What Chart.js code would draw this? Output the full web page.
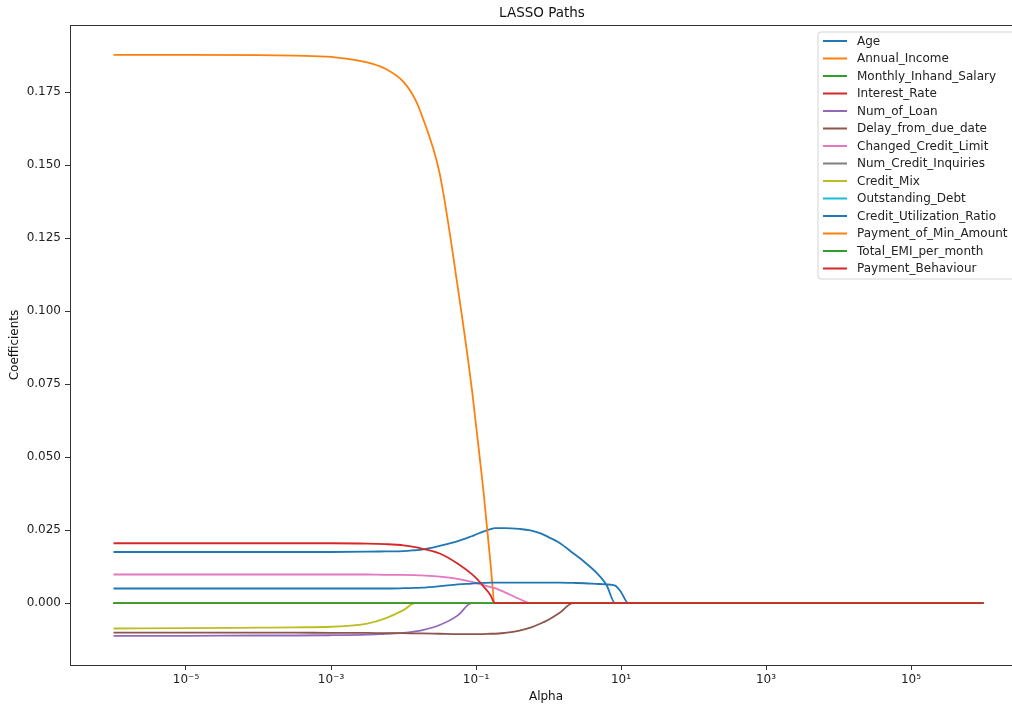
<!DOCTYPE html>
<html><head><meta charset="utf-8">
<script src="https://cdn.jsdelivr.net/npm/chart.js@4/dist/chart.umd.min.js"></script>
<style>
html,body{margin:0;padding:0;overflow:hidden;background:#fff;width:1012px;height:707px}
#wrap{position:absolute;left:0;top:0;width:1040px;height:707px}
</style>
</head><body><div id="wrap"><canvas id="c" width="1040" height="707"></canvas></div>
<script>
// ---- data ----
const alphas = [1e-6, 1e-5, 1e-4, 3.16e-4, 1e-3, 3.16e-3, 5.62e-3, 1e-2, 1.45e-2, 1.78e-2, 3.16e-2, 5.62e-2, 8.7e-2, 0.1, 0.126, 0.158, 0.182, 0.251, 0.398, 0.562, 0.794, 1, 1.41, 2.19, 3.16, 4.47, 6.31, 8.3, 10, 12.6, 100, 1e4, 1e6];

const featureNames = ["Age","Annual_Income","Monthly_Inhand_Salary","Interest_Rate","Num_of_Loan","Delay_from_due_date","Changed_Credit_Limit","Num_Credit_Inquiries","Credit_Mix","Outstanding_Debt","Credit_Utilization_Ratio","Payment_of_Min_Amount","Total_EMI_per_month","Payment_Behaviour"];

const age = [0.0175,0.0175,0.0175,0.0175,0.0175,0.0176,0.0177,0.0178,0.0181,0.0183,0.0196,0.0212,0.0229,0.0235,0.0245,0.0253,0.0257,0.0257,0.0254,0.0249,0.0238,0.0226,0.0207,0.0171,0.0140,0.0107,0.0062,0,0,0,0,0,0];
const annualIncome = [0.1878,0.1878,0.1877,0.1875,0.1871,0.1852,0.1830,0.1785,0.1725,0.1672,0.1470,0.1080,0.0740,0.0610,0.0390,0.0140,0,0,0,0,0,0,0,0,0,0,0,0,0,0,0,0,0];
const monthlyInhandSalary = [0,0,0,0,0,0,0,0,0,0,0,0,0,0,0,0,0,0,0,0,0,0,0,0,0,0,0,0,0,0,0,0,0];
const interestRate = [0,0,0,0,0,0,0,0,0,0,0,0,0,0,0,0,0,0,0,0,0,0,0,0,0,0,0,0,0,0,0,0,0];
const numOfLoan = [-0.0112,-0.0112,-0.0111,-0.0111,-0.0110,-0.0108,-0.0105,-0.0102,-0.0097,-0.0093,-0.0075,-0.0042,0,0,0,0,0,0,0,0,0,0,0,0,0,0,0,0,0,0,0,0,0];
const delayFromDueDate = [-0.0101,-0.0101,-0.0101,-0.0101,-0.0102,-0.0102,-0.0103,-0.0103,-0.0104,-0.0104,-0.0105,-0.0106,-0.0106,-0.0106,-0.0106,-0.0105,-0.0105,-0.0102,-0.0094,-0.0084,-0.0069,-0.0057,-0.0034,0,0,0,0,0,0,0,0,0,0];
const changedCreditLimit = [0.0098,0.0098,0.0098,0.0098,0.0098,0.0098,0.0097,0.0097,0.0096,0.0095,0.0091,0.0083,0.0073,0.0069,0.0062,0.0055,0.0051,0.0037,0.0014,0,0,0,0,0,0,0,0,0,0,0,0,0,0];
const numCreditInquiries = [0,0,0,0,0,0,0,0,0,0,0,0,0,0,0,0,0,0,0,0,0,0,0,0,0,0,0,0,0,0,0,0,0];
const creditMix = [-0.0087,-0.0086,-0.0084,-0.0083,-0.0081,-0.0070,-0.0052,-0.0024,0,0,0,0,0,0,0,0,0,0,0,0,0,0,0,0,0,0,0,0,0,0,0,0,0];
const outstandingDebt = [0,0,0,0,0,0,0,0,0,0,0,0,0,0,0,0,0,0,0,0,0,0,0,0,0,0,0,0,0,0,0,0,0];
const creditUtilizationRatio = [0.0050,0.0050,0.0050,0.0050,0.0050,0.0050,0.0050,0.0051,0.0052,0.0053,0.0058,0.0064,0.0067,0.0068,0.0069,0.0070,0.0070,0.0070,0.0070,0.0070,0.0070,0.0070,0.0070,0.0069,0.0068,0.0066,0.0064,0.0060,0.0038,0,0,0,0];
const paymentOfMinAmount = [0,0,0,0,0,0,0,0,0,0,0,0,0,0,0,0,0,0,0,0,0,0,0,0,0,0,0,0,0,0,0,0,0];
const totalEmiPerMonth = [0,0,0,0,0,0,0,0,0,0,0,0,0,0,0,0,0,0,0,0,0,0,0,0,0,0,0,0,0,0,0,0,0];
const paymentBehaviour = [0.0205,0.0205,0.0205,0.0205,0.0205,0.0204,0.0202,0.0198,0.0192,0.0187,0.0170,0.0135,0.0100,0.0086,0.0058,0.0028,0,0,0,0,0,0,0,0,0,0,0,0,0,0,0,0,0];

const xTickValues = [1e-5, 1e-3, 1e-1, 1e1, 1e3, 1e5];
const xTickLabels = ["10\u207B\u2075","10\u207B\u00B3","10\u207B\u00B9","10\u00B9","10\u00B3","10\u2075"];
const yTickValues = [0, 0.025, 0.05, 0.075, 0.1, 0.125, 0.15, 0.175];
const yTickLabels = ["0.000","0.025","0.050","0.075","0.100","0.125","0.150","0.175"];

// ---- styling ----
const series = [age, annualIncome, monthlyInhandSalary, interestRate, numOfLoan, delayFromDueDate, changedCreditLimit, numCreditInquiries, creditMix, outstandingDebt, creditUtilizationRatio, paymentOfMinAmount, totalEmiPerMonth, paymentBehaviour];
const palette = ["#1f77b4","#ff7f0e","#2ca02c","#d62728","#9467bd","#8c564b","#e377c2","#7f7f7f","#bcbd22","#17becf"];
const FONT = "DejaVu Sans";

const datasets = featureNames.map((name, i) => ({
  label: name,
  data: alphas.map((a, j) => ({x: a, y: series[i][j]})),
  borderColor: palette[i % 10],
  backgroundColor: palette[i % 10],
  borderWidth: 1.8,
  pointRadius: 0,
  fill: false,
  cubicInterpolationMode: 'monotone',
  order: featureNames.length - i
}));

const deco = {
  id: 'deco',
  afterDatasetsDraw(chart) {
    const {ctx, chartArea: a} = chart;
    ctx.save();
    ctx.strokeStyle = '#333';
    ctx.lineWidth = 1;
    ctx.strokeRect(a.left + 0.5, a.top + 0.5, a.right - a.left, a.bottom - a.top);
    ctx.restore();
  },
  afterDraw(chart) {
    const {ctx, chartArea: a} = chart;
    ctx.save();
    // title
    ctx.fillStyle = '#111';
    ctx.font = `13.5px "${FONT}"`;
    ctx.textAlign = 'center';
    ctx.textBaseline = 'middle';
    ctx.fillText('LASSO Paths', 542, 13);
    // axis labels
    ctx.font = `12px "${FONT}"`;
    ctx.fillText('Alpha', 546, 697);
    ctx.save();
    ctx.translate(15, (a.top + a.bottom) / 2);
    ctx.rotate(-Math.PI / 2);
    ctx.fillText('Coefficients', 0, 0);
    ctx.restore();
    // legend
    const bx = 818, by = 32, bw = 205, bh = 247, r = 3;
    ctx.beginPath();
    ctx.moveTo(bx + r, by);
    ctx.lineTo(bx + bw - r, by); ctx.arcTo(bx + bw, by, bx + bw, by + r, r);
    ctx.lineTo(bx + bw, by + bh - r); ctx.arcTo(bx + bw, by + bh, bx + bw - r, by + bh, r);
    ctx.lineTo(bx + r, by + bh); ctx.arcTo(bx, by + bh, bx, by + bh - r, r);
    ctx.lineTo(bx, by + r); ctx.arcTo(bx, by, bx + r, by, r);
    ctx.closePath();
    ctx.fillStyle = 'rgba(255,255,255,0.8)';
    ctx.fill();
    ctx.strokeStyle = '#d4d4d4';
    ctx.lineWidth = 1;
    ctx.stroke();
    ctx.textAlign = 'left';
    ctx.font = `12px "${FONT}"`;
    chart.data.datasets.forEach((ds, i) => {
      const y = 41 + i * 17.5;
      ctx.strokeStyle = ds.borderColor;
      ctx.lineWidth = 2;
      ctx.beginPath(); ctx.moveTo(823, y); ctx.lineTo(847, y); ctx.stroke();
      ctx.fillStyle = '#222';
      ctx.fillText(ds.label, 857, y + 0.5);
    });
    ctx.restore();
  }
};

new Chart(document.getElementById('c'), {
  type: 'line',
  data: {datasets},
  options: {
    responsive: false,
    animation: false,
    devicePixelRatio: 1,
    layout: {padding: {top: 25, right: 13, bottom: 0, left: 0}},
    plugins: {legend: {display: false}, tooltip: {enabled: false}, title: {display: false}},
    scales: {
      x: {
        type: 'logarithmic',
        min: Math.pow(10, -6.6),
        max: Math.pow(10, 6.6),
        afterBuildTicks: s => { s.ticks = xTickValues.map(v => ({value: v})); },
        afterFit: s => { s.height = 42; },
        ticks: {
          callback: (v, i) => xTickLabels[i],
          autoSkip: false, maxRotation: 0, minRotation: 0,
          padding: 3, color: '#222', font: {family: FONT, size: 12}
        },
        grid: {drawOnChartArea: false, drawTicks: true, tickLength: 5, tickColor: '#333', tickWidth: 1},
        border: {display: false}
      },
      y: {
        type: 'linear',
        min: -0.0212,
        max: 0.1980,
        afterBuildTicks: s => { s.ticks = yTickValues.map(v => ({value: v})); },
        afterFit: s => { s.width = 70; },
        ticks: {
          callback: (v, i) => yTickLabels[i],
          padding: 4, color: '#222', font: {family: FONT, size: 12}
        },
        grid: {drawOnChartArea: false, drawTicks: true, tickLength: 5, tickColor: '#333', tickWidth: 1},
        border: {display: false}
      }
    }
  },
  plugins: [deco]
});
</script></body></html>
